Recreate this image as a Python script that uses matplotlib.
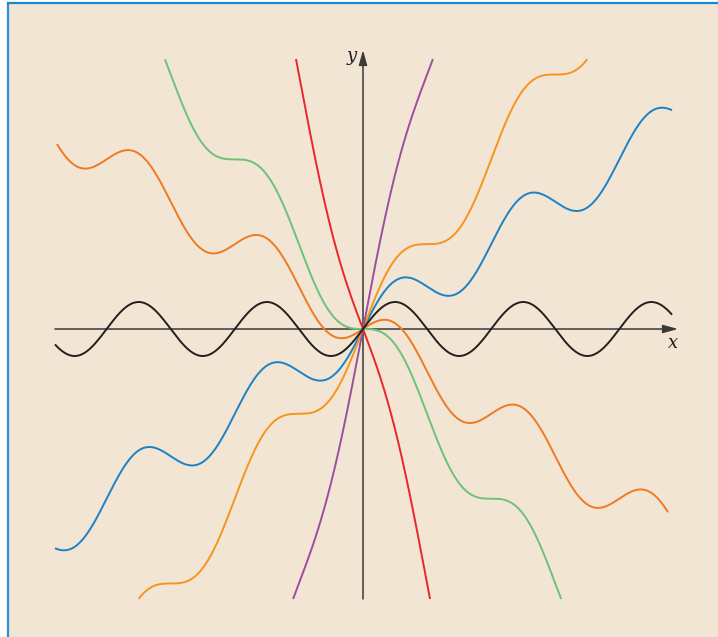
import numpy as np
import matplotlib.pyplot as plt
from matplotlib.patches import Rectangle
from matplotlib.lines import Line2D

# family y = c*x + sin(x)
slopes = [0, 0.5, -0.5, 1, -1, 3, -3]
colors = ['#231f20', '#1b82c5', '#f07a22', '#f7941d', '#6cc278', '#9b4f9e', '#e8262b']
x_lo = [-15.1, -15.1, -15.0, -15.1, -15.1, -15.1, -15.1]
x_hi = [15.15, 15.15, 14.95, 15.15, 15.15, 15.15, 15.15]
y_cap = 10.0

fig = plt.figure(figsize=(7.18, 6.37), dpi=100)
fig.patch.set_facecolor('white')

# beige panel with blue frame on top and left
W, H = 718, 637
fig.patches.append(Rectangle((9 / W, 0), 1 - 9 / W, 1 - 4 / H, transform=fig.transFigure,
                             facecolor='#f2e5d4', edgecolor='none', zorder=0))
fig.lines.append(Line2D([8 / W, 8 / W], [0, 1 - 2.5 / H], transform=fig.transFigure,
                        color='#2e8fcf', lw=1.6, zorder=1))
fig.lines.append(Line2D([8 / W, 1], [1 - 2.5 / H, 1 - 2.5 / H], transform=fig.transFigure,
                        color='#1289d6', lw=1.6, zorder=1))

ax = fig.add_axes([0, 0, 1, 1])
ax.set_zorder(5)
ax.set_facecolor('none')
sx, sy = 20.4, 27.0
ox, oy = 363, 329
ax.set_xlim(-ox / sx, (W - ox) / sx)
ax.set_ylim((oy - H) / sy, oy / sy)
ax.axis('off')

# axes with arrow heads
ax.annotate('', xy=((678 - ox) / sx, 0), xytext=(-15.1, 0),
            arrowprops=dict(arrowstyle='-|>,head_length=0.9,head_width=0.25',
                            color='#3a3a3a', lw=1.1, shrinkA=0, shrinkB=0))
ax.annotate('', xy=(0, (oy - 50) / sy), xytext=(0, -y_cap),
            arrowprops=dict(arrowstyle='-|>,head_length=0.9,head_width=0.25',
                            color='#3a3a3a', lw=1.1, shrinkA=0, shrinkB=0))
ax.text(-0.55, (oy - 56) / sy, 'y', fontsize=13, family='DejaVu Serif', style='italic',
        ha='center', va='center', color='#231f20')
ax.text((673 - ox) / sx, (oy - 343) / sy, 'x', fontsize=13, family='DejaVu Serif',
        style='italic', ha='center', va='center', color='#231f20')

for c, col, lo, hi in zip(slopes, colors, x_lo, x_hi):
    x = np.linspace(lo, hi, 6000)
    y = c * x + np.sin(x)
    y = np.where(np.abs(y) <= y_cap, y, np.nan)
    ax.plot(x, y, color=col, lw=1.4, solid_capstyle='butt', zorder=3 if c else 4)

fig.savefig('out.png', dpi=100)
